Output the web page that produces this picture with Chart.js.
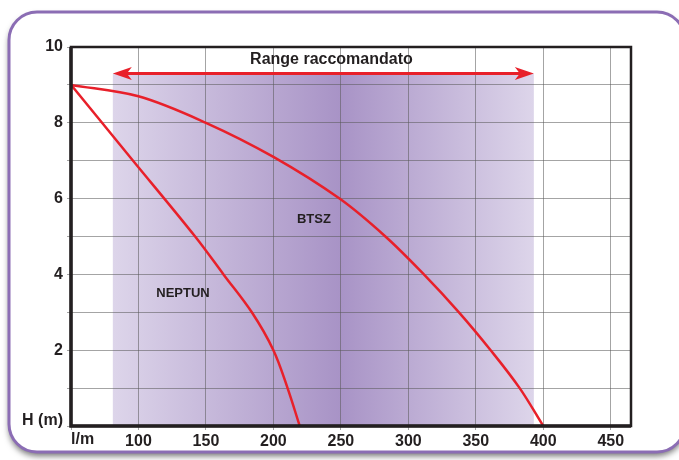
<!DOCTYPE html>
<html>
<head>
<meta charset="utf-8">
<script src="https://cdn.jsdelivr.net/npm/chart.js@4"></script>
<style>
  html, body { margin: 0; padding: 0; background: #fff; }
  #wrap { width: 679px; height: 460px; position: relative; }
</style>
</head>
<body>
<div id="wrap"><canvas id="chart" width="679" height="460"></canvas></div>
<script>
// Curve data (flow l/m, head m)
const neptunQ = [50, 96, 142, 163, 184, 200, 210.5, 219.5];
const neptunH = [9, 7, 5, 4, 3, 2, 1, 0];
const btszQ = [50, 100, 150, 200, 249, 283, 311.5, 337.5, 361, 382.5, 400];
const btszH = [9, 8.7, 8.0, 7.1, 6, 5, 4, 3, 2, 1, 0];

// Recommended range band
const rangeQ = [81, 393];
const rangeH = 9.3;
const rangeLabel = 'Range raccomandato';

// Curve labels
const curveNames = ['NEPTUN', 'BTSZ'];
const curveLabelQ = [133, 230];
const curveLabelH = [3.5, 5.45];

const xUnit = 'l/m';
const yUnit = 'H (m)';

const toPoints = (xs, ys) => xs.map((x, i) => ({ x: x, y: ys[i] }));

const FONT = '"Liberation Sans", Arial, sans-serif';
const RED = '#e8202a';

const decorPlugin = {
    id: 'decor',
    beforeDraw(chart) {
        const ctx = chart.ctx;
        const x = chart.scales.x, y = chart.scales.y;
        const a = chart.chartArea;

        // card frame
        ctx.save();
        ctx.fillStyle = '#fff';
        ctx.fillRect(0, 0, chart.width, chart.height);
        ctx.shadowColor = 'rgba(0,0,0,0.55)';
        ctx.shadowBlur = 6;
        ctx.shadowOffsetY = 4;
        ctx.beginPath();
        ctx.roundRect(9, 12, 676, 440, 28);
        ctx.fillStyle = '#fff';
        ctx.fill();
        ctx.shadowColor = 'transparent';
        ctx.lineWidth = 3;
        ctx.strokeStyle = '#8b6db4';
        ctx.stroke();
        ctx.restore();

        // shaded recommended range
        const x0 = x.getPixelForValue(rangeQ[0]);
        const x1 = x.getPixelForValue(rangeQ[1]);
        const yt = y.getPixelForValue(rangeH);
        const g = ctx.createLinearGradient(x0, 0, x1, 0);
        g.addColorStop(0, '#ddd5ea');
        g.addColorStop(0.54, '#a893c6');
        g.addColorStop(1, '#ddd5ea');
        ctx.save();
        ctx.fillStyle = g;
        ctx.fillRect(x0, yt, x1 - x0, a.bottom - yt);
        ctx.restore();
    },
    afterDatasetsDraw(chart) {
        const ctx = chart.ctx;
        const x = chart.scales.x, y = chart.scales.y;
        const a = chart.chartArea;

        // plot frame
        ctx.save();
        ctx.strokeStyle = '#231f20';
        ctx.lineWidth = 2.5;
        ctx.strokeRect(a.left, a.top, a.right - a.left, a.bottom - a.top);
        ctx.lineWidth = 3.5;
        ctx.beginPath();
        ctx.moveTo(a.left, a.top);
        ctx.lineTo(a.left, a.bottom);
        ctx.lineTo(a.right, a.bottom);
        ctx.stroke();

        // double arrow
        const x0 = x.getPixelForValue(rangeQ[0]);
        const x1 = x.getPixelForValue(rangeQ[1]);
        const ya = y.getPixelForValue(rangeH);
        ctx.strokeStyle = RED;
        ctx.fillStyle = RED;
        ctx.lineWidth = 3;
        ctx.beginPath();
        ctx.moveTo(x0 + 10, ya);
        ctx.lineTo(x1 - 10, ya);
        ctx.stroke();
        ctx.beginPath();
        ctx.moveTo(x0, ya);
        ctx.lineTo(x0 + 19, ya - 6.5);
        ctx.lineTo(x0 + 14, ya);
        ctx.lineTo(x0 + 19, ya + 6.5);
        ctx.closePath();
        ctx.fill();
        ctx.beginPath();
        ctx.moveTo(x1, ya);
        ctx.lineTo(x1 - 19, ya - 6.5);
        ctx.lineTo(x1 - 14, ya);
        ctx.lineTo(x1 - 19, ya + 6.5);
        ctx.closePath();
        ctx.fill();

        // texts
        ctx.fillStyle = '#231f20';
        ctx.textAlign = 'center';
        ctx.textBaseline = 'middle';
        ctx.font = 'bold 16px ' + FONT;
        ctx.fillText(rangeLabel, x.getPixelForValue(243), y.getPixelForValue(9.68));
        ctx.font = 'bold 13px ' + FONT;
        curveNames.forEach((n, i) => {
            ctx.fillText(n, x.getPixelForValue(curveLabelQ[i]), y.getPixelForValue(curveLabelH[i]));
        });

        // axis unit labels
        ctx.font = 'bold 16px ' + FONT;
        ctx.textAlign = 'left';
        ctx.fillText(xUnit, a.left, a.bottom + 14);
        ctx.textAlign = 'right';
        ctx.fillText(yUnit, a.left - 8, a.bottom - 5);
        ctx.restore();
    }
};

new Chart(document.getElementById('chart'), {
    type: 'line',
    data: {
        datasets: [
            { label: curveNames[0], data: toPoints(neptunQ, neptunH) },
            { label: curveNames[1], data: toPoints(btszQ, btszH) }
        ].map(d => Object.assign(d, {
            borderColor: RED,
            borderWidth: 2.5,
            pointRadius: 0,
            fill: false,
            tension: 0.35
        }))
    },
    options: {
        responsive: false,
        animation: false,
        layout: { padding: { left: 0, top: 47, right: 48, bottom: 0 } },
        plugins: {
            legend: { display: false },
            tooltip: { enabled: false }
        },
        scales: {
            x: {
                type: 'linear',
                min: 50,
                max: 465,
                afterFit: s => { s.height = 34; },
                grid: { color: 'rgba(90,90,90,0.55)', lineWidth: 1, tickLength: 4 },
                border: { display: false },
                ticks: {
                    stepSize: 50,
                    includeBounds: false,
                    padding: 2,
                    color: '#231f20',
                    font: { family: FONT, size: 16, weight: 'bold' },
                    callback: v => (v === 50 ? '' : v)
                }
            },
            y: {
                min: 0,
                max: 10,
                afterFit: s => { s.width = 71; },
                grid: { color: 'rgba(90,90,90,0.55)', lineWidth: 1, tickLength: 4 },
                border: { display: false },
                ticks: {
                    stepSize: 1,
                    padding: 4,
                    color: '#231f20',
                    font: { family: FONT, size: 16, weight: 'bold' },
                    callback: v => (v > 0 && v % 2 === 0 ? v : '')
                }
            }
        }
    },
    plugins: [decorPlugin]
});
</script>
</body>
</html>
